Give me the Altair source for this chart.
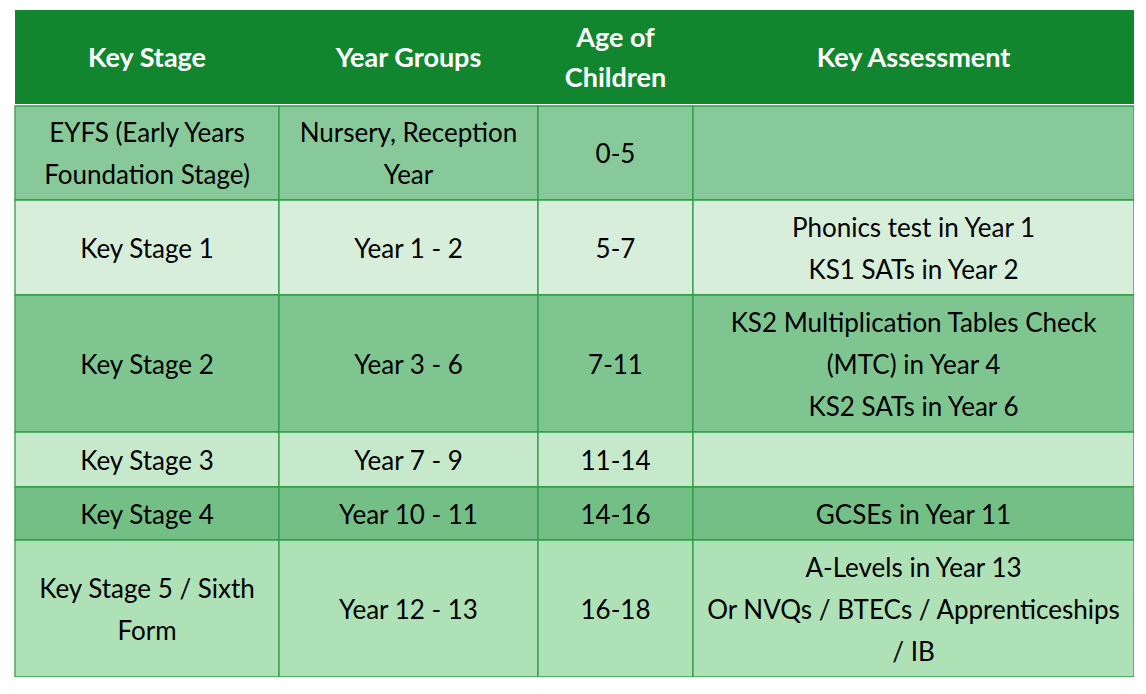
import altair as alt
import pandas as pd

# ---- table content ----
headers = ["Key Stage", "Year Groups", "Age of\nChildren", "Key Assessment"]
key_stages = ["EYFS (Early Years\nFoundation Stage)", "Key Stage 1", "Key Stage 2",
              "Key Stage 3", "Key Stage 4", "Key Stage 5 / Sixth\nForm"]
year_groups = ["Nursery, Reception\nYear", "Year 1 - 2", "Year 3 - 6",
               "Year 7 - 9", "Year 10 - 11", "Year 12 - 13"]
ages = ["0-5", "5-7", "7-11", "11-14", "14-16", "16-18"]
assessments = ["", "Phonics test in Year 1\nKS1 SATs in Year 2",
               "KS2 Multiplication Tables Check\n(MTC) in Year 4\nKS2 SATs in Year 6",
               "", "GCSEs in Year 11",
               "A-Levels in Year 13\nOr NVQs / BTECs / Apprenticeships\n/ IB"]

# ---- layout / style ----
W, H = 1119, 667
col_edges = [0, 264, 523, 678, 1119]
header_bottom = 94
row_edges = [96, 190, 285, 422, 477, 530, 667]
header_fill = "#12862F"
row_fills = ["#88C999", "#D7EFDA", "#7FC590", "#C6E9CB", "#74BF86", "#AFE1B6"]
grid_color = "#2E9E45"
LH_BODY, LH_HEAD = 42, 40

columns = [key_stages, year_groups, ages, assessments]


def first_line_y(center, text, lh):
    n = text.count("\n") + 1
    return center - (n - 1) / 2 * lh


cells, texts = [], []
for r in range(len(key_stages)):
    for c in range(4):
        cells.append(dict(x0=col_edges[c], x1=col_edges[c + 1],
                          y0=row_edges[r], y1=row_edges[r + 1], fill=row_fills[r]))
        t = columns[c][r]
        texts.append(dict(x=(col_edges[c] + col_edges[c + 1]) / 2,
                          y=first_line_y((row_edges[r] + row_edges[r + 1]) / 2, t, LH_BODY),
                          t=t))
cells_df = pd.DataFrame(cells)
texts_df = pd.DataFrame(texts)
head_df = pd.DataFrame([dict(x=(col_edges[c] + col_edges[c + 1]) / 2,
                             y=first_line_y(header_bottom / 2, headers[c], LH_HEAD),
                             t=headers[c]) for c in range(4)])
header_rect = pd.DataFrame([dict(x0=0, x1=W, y0=0, y1=header_bottom)])
shadow_df = pd.DataFrame([dict(x0=3, x1=W + 3, y0=3, y1=H + 3)])

xs = alt.Scale(domain=[0, W], nice=False, zero=False)
ys = alt.Scale(domain=[0, H], nice=False, zero=False, reverse=True)

shadow = alt.Chart(shadow_df).mark_rect(color="#9a9a9a", opacity=0.6).encode(
    x=alt.X("x0:Q", scale=xs, axis=None), x2="x1",
    y=alt.Y("y0:Q", scale=ys, axis=None), y2="y1")

base_white = alt.Chart(pd.DataFrame([dict(x0=0, x1=W, y0=0, y1=H)])).mark_rect(color="white").encode(
    x=alt.X("x0:Q", scale=xs, axis=None), x2="x1",
    y=alt.Y("y0:Q", scale=ys, axis=None), y2="y1")

header = alt.Chart(header_rect).mark_rect(color=header_fill).encode(
    x=alt.X("x0:Q", scale=xs, axis=None), x2="x1",
    y=alt.Y("y0:Q", scale=ys, axis=None), y2="y1")

body = alt.Chart(cells_df).mark_rect(stroke=grid_color, strokeWidth=1.3).encode(
    x=alt.X("x0:Q", scale=xs, axis=None), x2="x1",
    y=alt.Y("y0:Q", scale=ys, axis=None), y2="y1",
    color=alt.Color("fill:N", scale=None))

head_text = alt.Chart(head_df).mark_text(
    font="Lato", fontSize=27, fontWeight="bold", color="white", dy=2,
    lineBreak="\n", lineHeight=LH_HEAD, baseline="middle", align="center").encode(
    x=alt.X("x:Q", scale=xs, axis=None), y=alt.Y("y:Q", scale=ys, axis=None), text="t:N")

body_text = alt.Chart(texts_df).mark_text(
    font="Lato", fontSize=26, color="black", dy=2,
    lineBreak="\n", lineHeight=LH_BODY, baseline="middle", align="center").encode(
    x=alt.X("x:Q", scale=xs, axis=None), y=alt.Y("y:Q", scale=ys, axis=None), text="t:N")

chart = alt.layer(shadow, base_white, header, body, head_text, body_text).properties(
    width=W, height=H,
    autosize=alt.AutoSizeParams(type="none"),
    padding={"left": 7, "top": 2, "right": 0, "bottom": 0},
).configure_view(stroke=None)

chart.save("out.html", embed_options={"renderer": "svg", "actions": False})
